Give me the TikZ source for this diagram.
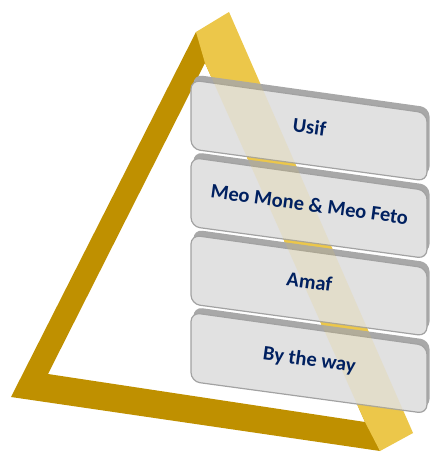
\documentclass[tikz,border=0pt]{standalone}
\usepackage{fontspec}
\setmainfont{Carlito}
\definecolor{goldD}{RGB}{191,144,0}
\definecolor{goldL}{RGB}{236,199,74}
\definecolor{slabface}{RGB}{225,225,225}
\definecolor{slabedge}{RGB}{162,162,162}
\definecolor{slabback}{RGB}{168,168,168}
\definecolor{navy}{RGB}{0,32,96}
\begin{document}
\begin{tikzpicture}[x=1pt,y=-1pt,
  framefront/.style={fill=goldD, even odd rule},
  frameside/.style={fill=goldL},
  slabdepth/.style={fill=slabback, rounded corners=9pt},
  slabfront/.style={fill=slabface, draw=slabedge, line width=1.2pt, rounded corners=9pt},
  slabtext/.style={font=\bfseries\fontsize{20.5}{24}\selectfont, text=navy,
    text height=0.644em, text depth=0pt, inner sep=0pt, rotate=-7.8}]
\useasboundingbox (0,0) rectangle (432,452);

% triangular frame: front faces with the inner opening
\fill[framefront] (196,32) -- (11,397) -- (380,451) -- cycle
                  (205,63) -- (48,374) -- (365,422) -- cycle;
% right arm seen from the side
\fill[frameside] (196,32) -- (229,12) -- (413,433) -- (380,451) -- (365,422) -- (205,63) -- cycle;

% stacked slabs
\foreach \k in {0,1,2,3}{
  \pgfmathsetmacro\dy{77.5*\k}
  \begin{scope}[shift={(0,\dy)}]
    \fill[slabdepth, shift={(2.5,-5.5)}] (191,80) -- (427,113) -- (427,181) -- (191,149) -- cycle;
    \filldraw[slabfront] (191,80) -- (427,113) -- (427,181) -- (191,149) -- cycle;
  \end{scope}
}

% the side arm showing faintly through the slabs
\fill[frameside, opacity=0.14] (196,32) -- (229,12) -- (413,433) -- (380,451) -- (365,422) -- (205,63) -- cycle;

% labels
\node[slabtext] (usif) at (309,130.5) {Usif};
\node[slabtext] (meo)  at (309,208)   {Meo Mone \& Meo Feto};
\node[slabtext] (amaf) at (309,285.5) {Amaf};
\node[slabtext] (way)  at (309,363)   {By the way};
\end{tikzpicture}
\end{document}
